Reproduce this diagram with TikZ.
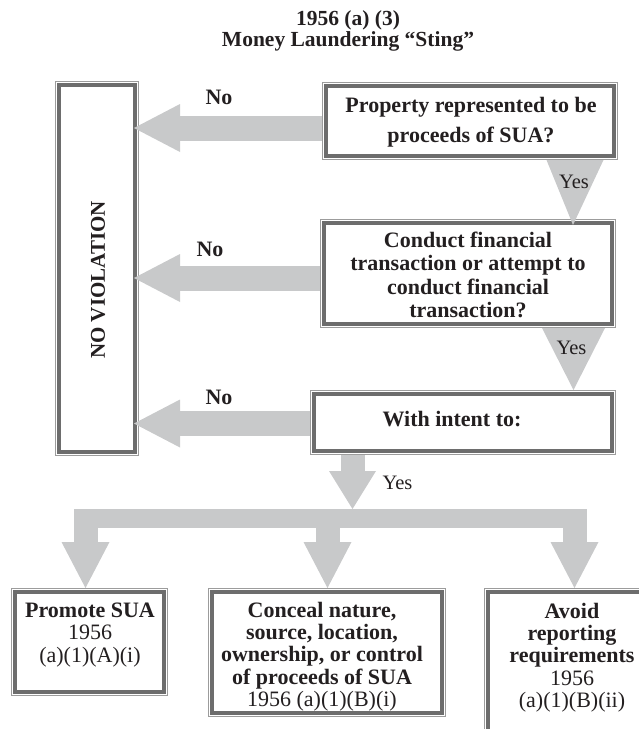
\documentclass[tikz,border=0pt]{standalone}
\usepackage{fontspec}
\setmainfont{Liberation Serif}
\usetikzlibrary{arrows.meta,calc}
\definecolor{ink}{HTML}{231F20}
\definecolor{arrowgray}{HTML}{C8C9CA}
\definecolor{framedark}{HTML}{6D6D6D}
\definecolor{framelight}{HTML}{9C9C9C}

\begin{document}
\begin{tikzpicture}[x=1pt,y=-1pt,
  frame/.style={rectangle, draw=framedark, line width=4pt, fill=white,
    inner sep=0pt, outer sep=4pt},
  frameline/.style={draw=framelight, line width=1pt},
  qtext/.style={text=ink, align=center, inner sep=0pt,
    font=\fontsize{22}{23.3}\selectfont\bfseries},
  boxtext/.style={text=ink, align=center, inner sep=0pt, anchor=north,
    font=\fontsize{22}{22.2}\selectfont},
  nolabel/.style={text=ink, inner sep=0pt, font=\fontsize{22}{24}\selectfont\bfseries},
  yeslabel/.style={text=ink, inner sep=0pt, font=\fontsize{20.5}{24}\selectfont},
  noarrow/.style={draw=arrowgray, line width=25pt, shorten >=-5pt,
    -{Triangle[length=46pt,width=48pt,line width=0pt]}},
  downarrow/.style={draw=arrowgray, line width=24pt,
    -{Triangle[length=38pt,width=47pt,line width=0pt]}},
  brancharrow/.style={draw=arrowgray, line width=24pt,
    -{Triangle[length=46pt,width=48pt,line width=0pt]}},
  wedge/.style={fill=arrowgray},
]
\useasboundingbox (0,0) rectangle (639,729);
\clip (0,0) rectangle (639,729);

% heading
\node[text=ink, align=center, inner sep=0pt,
      font=\fontsize{21.5}{21}\selectfont\bfseries] (title) at (348,31)
  {1956 (a) (3)\\Money Laundering “Sting”};

% framed boxes
\node[frame, minimum width=76pt,  minimum height=367pt] (nv) at (97,268.5) {};
\node[frame, minimum width=288pt, minimum height=70pt]  (q1) at (470,121) {};
\node[frame, minimum width=288pt, minimum height=101pt] (q2) at (468,273.5) {};
\node[frame, minimum width=298pt, minimum height=57pt]  (q3) at (463,422.5) {};
\node[frame, minimum width=149pt, minimum height=100pt] (b1) at (89.5,642) {};
\node[frame, minimum width=230pt, minimum height=121pt] (b2) at (327,652.5) {};
\node[frame, minimum width=208pt, minimum height=174pt] (b3) at (592,679) {};

% thin outer rule around every frame
\foreach \b in {nv,q1,q2,q3,b1,b2,b3}
  \draw[frameline] ([xshift=0.5pt,yshift=-0.5pt]\b.north west)
    rectangle ([xshift=-0.5pt,yshift=0.5pt]\b.south east);

% levels of the "No" arrows
\coordinate (n1) at (0,128);
\coordinate (n2) at (0,278);
\coordinate (n3) at (0,423.5);
\draw[noarrow] (q1.west |- n1) -- (nv.east |- n1);
\draw[noarrow] (q2.west |- n2) -- (nv.east |- n2);
\draw[noarrow] (q3.west |- n3) -- (nv.east |- n3);

% "Yes" wedges between the questions
\coordinate (w1) at (575,0);
\coordinate (w2) at (573.5,0);
\fill[wedge] ($(q1.south -| w1)+(-28.5,0)$) -- ($(q1.south -| w1)+(28.5,0)$)
  -- ($(q2.north -| w1)+(-2,6)$) -- cycle;
\fill[wedge] ($(q2.south -| w2)+(-31.5,0)$) -- ($(q2.south -| w2)+(31.5,0)$)
  -- (q3.north -| w2) -- cycle;

% split into the three purposes
\coordinate (bar0) at (73.5,509);
\coordinate (bar1) at (586.5,528);
\fill[arrowgray] (bar0) rectangle (bar1);
\coordinate (d) at (352.5,0);
\draw[downarrow] (q3.south -| d) -- (d |- bar0);
\coordinate (s1) at (85.5,0);
\coordinate (s2) at (327.5,0);
\coordinate (s3) at (574.5,0);
\draw[brancharrow] (s1 |- bar0) -- (s1 |- b1.north);
\draw[brancharrow] (s2 |- bar0) -- (s2 |- b2.north);
\draw[brancharrow] (s3 |- bar0) -- (s3 |- b3.north);

% labels on the arrows
\node[nolabel] (no1) at (219,97) {No};
\node[nolabel] (no2) at (210,249) {No};
\node[nolabel] (no3) at (219,397) {No};
\node[yeslabel] (yes1) at (574,182) {Yes};
\node[yeslabel] (yes2) at (571.5,348) {Yes};
\node[yeslabel] (yes3) at (397.5,483) {Yes};

% box texts
\node[text=ink, inner sep=0pt, rotate=90,
      font=\fontsize{21}{24}\selectfont\bfseries] (nvt) at (98,280) {NO VIOLATION};
\node[qtext, font=\fontsize{22}{30}\selectfont\bfseries] (q1t) at (471,122)
  {Property represented to be\\proceeds of SUA?};
\node[qtext] (q2t) at (468,275)
  {Conduct financial\\transaction or attempt to\\conduct financial\\transaction?};
\node[qtext] (q3t) at (452,419) {With intent to:};
\node[boxtext] (t1) at (90,603)
  {\textbf{Promote SUA}\\1956\\(a)(1)(A)(i)};
\node[boxtext] (t2) at (322,602)
  {\textbf{Conceal nature,}\\\textbf{source, location,}\\\textbf{ownership, or control}\\\textbf{of proceeds of SUA}\\1956 (a)(1)(B)(i)};
\node[boxtext] (t3) at (572,603)
  {\textbf{Avoid}\\\textbf{reporting}\\\textbf{requirements}\\1956\\(a)(1)(B)(ii)};
\end{tikzpicture}
\end{document}
